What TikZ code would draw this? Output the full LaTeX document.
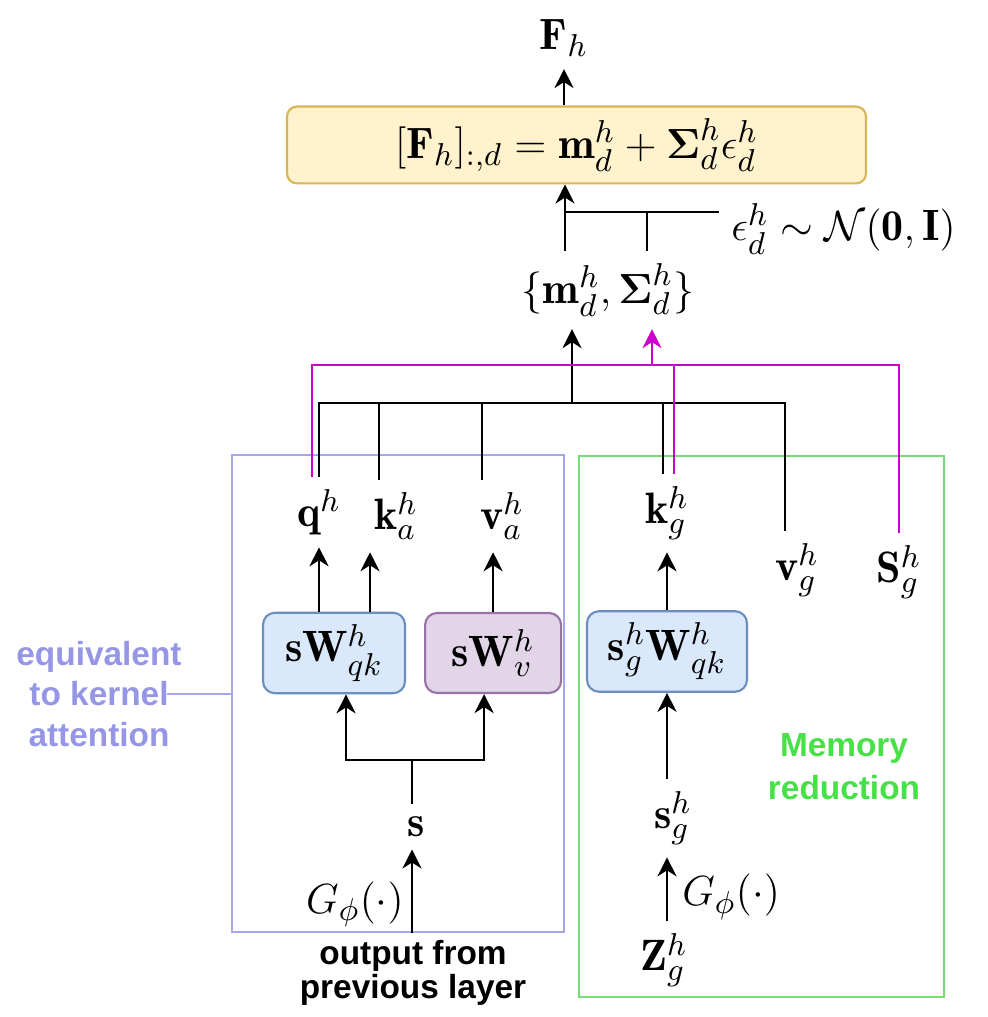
\documentclass[tikz,border=0pt]{standalone}
\usepackage{amsmath,amssymb}
\usepackage{fontspec}
\newfontfamily\notefont{Liberation Sans}
\usetikzlibrary{arrows.meta,positioning,calc}

\definecolor{attnline}{RGB}{165,165,240}
\definecolor{attntext}{RGB}{150,150,230}
\definecolor{memline}{RGB}{120,220,120}
\definecolor{memtext}{RGB}{70,225,70}
\definecolor{magline}{RGB}{204,0,204}
\definecolor{yfill}{HTML}{FFF2CC}
\definecolor{ydraw}{HTML}{D6B656}
\definecolor{bfill}{HTML}{DAE8FC}
\definecolor{bdraw}{HTML}{6C8EBF}
\definecolor{pfill}{HTML}{E1D5E7}
\definecolor{pdraw}{HTML}{9673A6}

\begin{document}
\begin{tikzpicture}[
  x=1mm, y=1mm,
  >={Stealth[length=1.9mm,width=1.9mm,inset=0.6mm]},
  node distance=1.8mm,
  mathnode/.style={font=\fontsize{12.5}{15}\selectfont},
  outbox/.style={
    draw=ydraw,
    fill=yfill,
    rounded corners=1mm,
    line width=0.6pt,
    mathnode
  },
  qkbox/.style={
    draw=bdraw,
    fill=bfill,
    rounded corners=1.2mm,
    minimum height=8mm,
    line width=0.6pt,
    mathnode
  },
  vbox/.style={
    draw=pdraw,
    fill=pfill,
    rounded corners=1.2mm,
    minimum height=8mm,
    line width=0.6pt,
    mathnode
  },
  attnframe/.style={draw=attnline, line width=0.8pt, inner sep=0pt},
  memframe/.style={draw=memline, line width=0.8pt, inner sep=0pt},
  wire/.style={line width=0.7pt},
  arrow/.style={->, line width=0.7pt},
  mwire/.style={line width=0.6pt, color=magline},
  marrow/.style={->, line width=0.6pt, color=magline},
  attnwire/.style={line width=0.7pt, color=attnline},
  note/.style={align=center, inner sep=0pt},
  kernelnote/.style={note, text=attntext, font=\notefont\bfseries\fontsize{9.5}{11.6}\selectfont},
  memnote/.style={note, text=memtext, font=\notefont\bfseries\fontsize{9.5}{12.2}\selectfont},
  prevnote/.style={note, font=\notefont\bfseries\fontsize{9.5}{9.6}\selectfont},
  gnote/.style={mathnode, inner sep=2pt}
]
\useasboundingbox (0,0) rectangle (98.7,101.7);

% Frames
\node[attnframe, minimum width=33.2mm, minimum height=47.7mm] (attn) at (39.8,32.35) {};
\node[memframe, minimum width=36.5mm, minimum height=54.1mm] (mem) at (76.15,29.05) {};
\node[kernelnote] (kernel) at (9.9,32.3) {equivalent\\to kernel\\attention};
\node[memnote] (memlbl) at (84.4,25.0) {Memory\\reduction};
\node[prevnote] (prev) at (41.3,4.4) {output from\\previous layer};

% Output
\node[mathnode] (Fh) at (56.4,97.9) {$\mathbf{F}_h$};
\node[outbox, minimum width=57.9mm, minimum height=7.4mm] (Fbox) at (57.65,87.2)
  {$[\mathbf{F}_h]_{:,d} = \mathbf{m}^h_d + \boldsymbol{\Sigma}^h_d\epsilon^h_d$};
\node[mathnode, anchor=west] (eps) at (71.9,78.8) {$\epsilon^h_d \sim \mathcal{N}(\mathbf{0},\mathbf{I})$};
\node[mathnode] (msig) at (60.8,72.7) {$\{\mathbf{m}^h_d, \boldsymbol{\Sigma}^h_d\}$};

% Attention side
\node[mathnode] (q) at (31.9,50.5) {$\mathbf{q}^h$};
\node[mathnode] (ka) at (39.6,50.1) {$\mathbf{k}^h_a$};
\node[mathnode] (va) at (50.2,50.1) {$\mathbf{v}^h_a$};
\node[qkbox, minimum width=14.2mm] (sWqk) at (33.4,36.4) {$\mathbf{s}\mathbf{W}^h_{qk}$};
\node[vbox, minimum width=13.6mm, right=of sWqk] (sWv) {$\mathbf{s}\mathbf{W}^h_{v}$};
\node[mathnode] (s) at (41.6,19.0) {$\mathbf{s}$};

% Memory side
\node[mathnode] (kg) at (66.7,50.4) {$\mathbf{k}^h_g$};
\node[mathnode] (vg) at (79.7,44.7) {$\mathbf{v}^h_g$};
\node[mathnode] (Sg) at (89.9,44.5) {$\mathbf{S}^h_g$};
\node[qkbox, minimum width=16mm, minimum height=7.7mm] (sgWqk) at (66.7,36.55) {$\mathbf{s}^h_g\mathbf{W}^h_{qk}$};
\node[mathnode] (sg) at (67.3,19.9) {$\mathbf{s}^h_g$};
\node[mathnode] (Zg) at (66.4,5.7) {$\mathbf{Z}^h_g$};

\coordinate (epsj) at (56.5,80.5);
\coordinate (sigj) at (64.7,80.5);
\coordinate (bus) at (57.2,61.4);
\coordinate (mbus) at (65.2,65.2);
\coordinate (split) at (41.2,25.7);

% Top arrows
\draw[arrow] (Fh.south |- Fbox.north) -- (Fh.south);
\draw[arrow] (msig.north -| epsj) -- (epsj |- Fbox.south);
\draw[wire] (epsj) -- (epsj -| eps.west);
\draw[wire] (msig.north -| sigj) -- (sigj);
\draw[wire] (kernel.east) ++(-1.5,0) coordinate (kend);
\draw[attnwire] (kend) -- (attn.west |- kend);

% Black bus
\draw[wire] (q.north) |- (bus) -| ([xshift=-1.2mm]vg.north);
\draw[wire] ([xshift=-1.7mm]ka.north) |- (bus);
\draw[wire] ([xshift=-2mm]va.north) |- (bus);
\draw[wire] ([xshift=-0.4mm]kg.north) |- (bus);
\draw[arrow] (bus) -- (bus |- msig.south);

% Magenta bus
\draw[mwire] ([xshift=-0.7mm]q.north) |- (mbus) -| (Sg.north);
\draw[mwire] ([xshift=0.7mm]kg.north) |- (mbus);
\draw[marrow] (mbus) -- (mbus |- msig.south);

% Projections
\draw[arrow] (q.south |- sWqk.north) -- (q.south);
\draw[arrow] ($(ka.south |- sWqk.north)+(-2.6,0)$) -- ($(ka.south)+(-2.6,0)$);
\draw[arrow] (sWv.north) -- (sWv.north |- va.south);
\draw[arrow] (sgWqk.north) -- (sgWqk.north |- kg.south);

% Inputs
\draw[wire] (s.north -| split) -- (split);
\draw[arrow] (split) -| ([xshift=1.2mm]sWqk.south);
\draw[arrow] (split) -| ([xshift=-0.9mm]sWv.south);
\draw[arrow] (attn.south -| split) -- node[pos=0.35, left, gnote] {$G_\phi(\cdot)$} (s.south -| split);
\draw[arrow] (sg.north -| sgWqk.south) -- (sgWqk.south);
\draw[arrow] (Zg.north -| sgWqk.south) -- node[pos=0.38, right=2pt, gnote] {$G_\phi(\cdot)$} (sg.south -| sgWqk.south);

\end{tikzpicture}
\end{document}
